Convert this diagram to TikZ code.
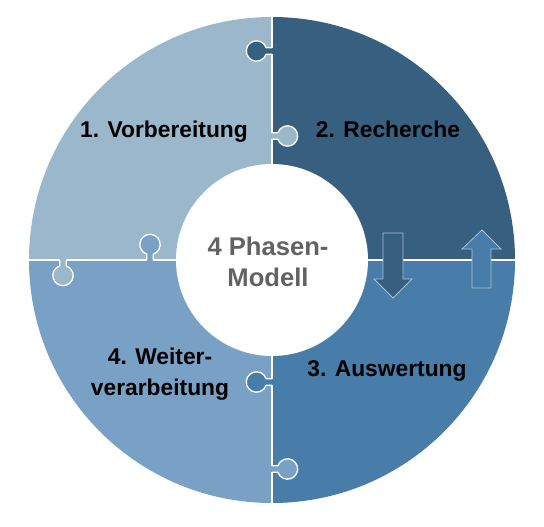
\documentclass[tikz,border=0pt]{standalone}
\usepackage{fontspec}
\setmainfont{Liberation Sans}
\definecolor{qa}{HTML}{9AB7CB}
\definecolor{qb}{HTML}{375F80}
\definecolor{qc}{HTML}{477DA8}
\definecolor{qd}{HTML}{78A1C5}
\definecolor{arrowedge}{HTML}{A9C1D6}
\definecolor{centertext}{HTML}{626262}
\tikzset{
  divider/.style={draw=white, line width=1.3pt},
  label/.style={font=\bfseries\fontsize{22.8}{31}\selectfont, text=black, inner sep=0pt, align=center},
  centerlabel/.style={font=\bfseries\fontsize{25.6}{31}\selectfont, text=centertext, inner sep=0pt, align=center},
  phasearrow/.style={draw=arrowedge, line width=0.8pt, line join=miter},
}
\newcommand{\knobfill}{(1.5,-3.2) -- (-5.82,-3.2) arc[start angle=-18.3, end angle=-341.7, radius=10.2] -- (1.5,3.2) -- cycle}
\newcommand{\knobline}{(0,-3.2) -- (-5.82,-3.2) arc[start angle=-18.3, end angle=-341.7, radius=10.2] -- (0,3.2)}
\newcommand{\knob}[3]{%
  \begin{scope}[shift={#1}, rotate=#2]
    \fill[#3] \knobfill;
    \draw[divider, line join=round] \knobline;
  \end{scope}}
\begin{document}
\begin{tikzpicture}[x=1pt, y=-1pt]
\useasboundingbox (0,0) rectangle (544,527);
\coordinate (c) at (272,260);
% quadrants
\fill[qa] (c) -- ++(180:243) arc[start angle=180, end angle=270, radius=243] -- cycle;
\fill[qb] (c) -- ++(270:243) arc[start angle=270, end angle=360, radius=243] -- cycle;
\fill[qc] (c) -- ++(0:243) arc[start angle=0, end angle=90, radius=243] -- cycle;
\fill[qd] (c) -- ++(90:243) arc[start angle=90, end angle=180, radius=243] -- cycle;
% dividers
\draw[divider] (c) -- ++(270:243);
\draw[divider] (c) -- ++(90:243);
\draw[divider] (c) -- ++(180:243);
\draw[divider] (c) -- ++(0:243);
% puzzle knobs
\knob{(272,51)}{0}{qb}
\knob{(272,136)}{180}{qa}
\knob{(63,260)}{90}{qa}
\knob{(150,260)}{-90}{qd}
\knob{(272,382)}{0}{qc}
\knob{(272,469)}{180}{qd}
% inner circle
\fill[white] (c) circle[radius=96];
\node[centerlabel] (center) at (268,261.5) {4 Phasen-\\Modell};
% arrows
\path[phasearrow, fill=qb] (383,233) -- (403,233) -- (403,279) -- (412,279) -- (393,298) -- (374,279) -- (383,279) -- cycle;
\path[phasearrow, fill=qc] (482,230) -- (501,249) -- (491,249) -- (491,288) -- (472,288) -- (472,249) -- (462,249) -- cycle;
% labels
\node[label, anchor=base] (p1) at (164,137) {1. Vorbereitung};
\node[label, anchor=base] (p2) at (388,137) {2. Recherche};
\node[label, anchor=base] (p3) at (387,376) {3. Auswertung};
\node[label] (p4) at (160,374.5) {4. Weiter-\\verarbeitung};
\end{tikzpicture}
\end{document}
